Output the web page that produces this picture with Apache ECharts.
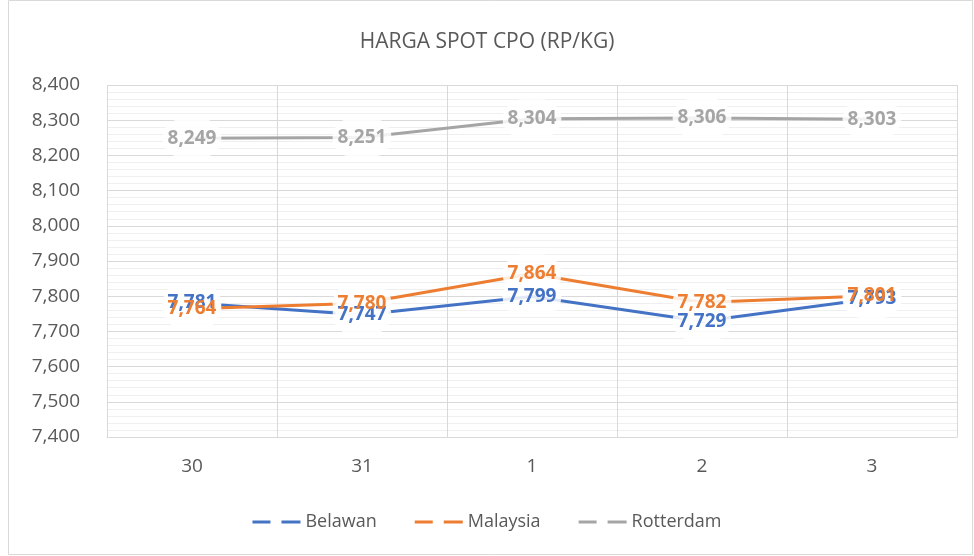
<!DOCTYPE html>
<html>
<head>
<meta charset="utf-8">
<script src="https://cdn.jsdelivr.net/npm/echarts@6/dist/echarts.min.js"></script>
<style>
  html, body { margin: 0; padding: 0; background: #fff; }
  #chart { width: 974px; height: 556px; }
</style>
</head>
<body>
<div id="chart"></div>
<script>
const categories = ['30', '31', '1', '2', '3']
const belawan = [7781, 7747, 7799, 7729, 7793]
const malaysia = [7764, 7780, 7864, 7782, 7801]
const rotterdam = [8249, 8251, 8304, 8306, 8303]

const font = '"Open Sans", "Liberation Sans", sans-serif'
const dashIcon = 'path://M0,0h18v3h-18z M29,0h19v3h-19z'
const fmt = p => p.value.toLocaleString('en-US')

// the line itself
function lineSeries(name, data, color) {
  return {
    name: name, type: 'line', data: data, z: 2,
    symbol: 'circle', symbolSize: 1,
    lineStyle: { color: color, width: 3 },
    itemStyle: { color: color }
  }
}

// white glow behind the value labels (drawn above every line)
function glowSeries(name, data) {
  return {
    name: name, type: 'line', data: data, z: 3, silent: true,
    symbol: 'circle', symbolSize: 1,
    lineStyle: { opacity: 0 }, itemStyle: { color: 'rgba(0,0,0,0)' },
    label: {
      show: true, position: 'inside', formatter: fmt,
      color: 'rgba(0,0,0,0)', fontFamily: font, fontSize: 19, fontWeight: 'bold',
      backgroundColor: 'rgba(255,255,255,0.85)', borderRadius: 22, padding: [10, 5]
    }
  }
}

// coloured value labels on top of the glow
function textSeries(name, data, color) {
  return {
    name: name, type: 'line', data: data, z: 4, silent: true,
    symbol: 'circle', symbolSize: 1,
    lineStyle: { opacity: 0 }, itemStyle: { color: 'rgba(0,0,0,0)' },
    label: {
      show: true, position: 'inside', formatter: fmt,
      color: color, fontFamily: font, fontSize: 19, fontWeight: 'bold'
    }
  }
}

const chart = echarts.init(document.getElementById('chart'))
chart.setOption({
  animation: false,
  title: {
    text: 'HARGA SPOT CPO (RP/KG)',
    left: 'center',
    top: 27,
    textStyle: { color: '#595959', fontFamily: font, fontSize: 21, fontWeight: 'normal' }
  },
  legend: {
    bottom: 20,
    left: 'center',
    itemGap: 38,
    itemWidth: 48,
    itemHeight: 3,
    textStyle: { color: '#595959', fontFamily: font, fontSize: 18 },
    data: [
      { name: 'Belawan', icon: dashIcon },
      { name: 'Malaysia', icon: dashIcon },
      { name: 'Rotterdam', icon: dashIcon }
    ]
  },
  grid: { left: 107, right: 17, top: 85, bottom: 119 },
  xAxis: {
    type: 'category',
    data: categories,
    boundaryGap: true,
    axisLine: { show: true, lineStyle: { color: '#d9d9d9' } },
    axisTick: { show: false },
    axisLabel: { color: '#595959', fontFamily: font, fontSize: 19, margin: 20 },
    splitLine: { show: true, interval: 0, lineStyle: { color: '#d9d9d9' } }
  },
  yAxis: {
    type: 'value',
    min: 7400,
    max: 8400,
    interval: 100,
    axisLine: { show: false },
    axisTick: { show: false },
    axisLabel: {
      color: '#595959', fontFamily: font, fontSize: 19, margin: 27,
      formatter: v => v.toLocaleString('en-US')
    },
    splitLine: { lineStyle: { color: '#d9d9d9' } },
    minorTick: { show: false, splitNumber: 5 },
    minorSplitLine: { show: true, lineStyle: { color: '#efefef' } }
  },
  graphic: [{
    type: 'rect',
    shape: { x: 8.5, y: 0.5, width: 964, height: 554 },
    style: { fill: 'none', stroke: '#d9d9d9', lineWidth: 1 },
    silent: true
  }],
  series: [
    lineSeries('Belawan', belawan, '#4472C4'),
    lineSeries('Malaysia', malaysia, '#ED7D31'),
    lineSeries('Rotterdam', rotterdam, '#A5A5A5'),
    glowSeries('glow-b', belawan),
    glowSeries('glow-m', malaysia),
    glowSeries('glow-r', rotterdam),
    textSeries('text-b', belawan, '#4472C4'),
    textSeries('text-m', malaysia, '#ED7D31'),
    textSeries('text-r', rotterdam, '#A5A5A5')
  ]
})
</script>
</body>
</html>
